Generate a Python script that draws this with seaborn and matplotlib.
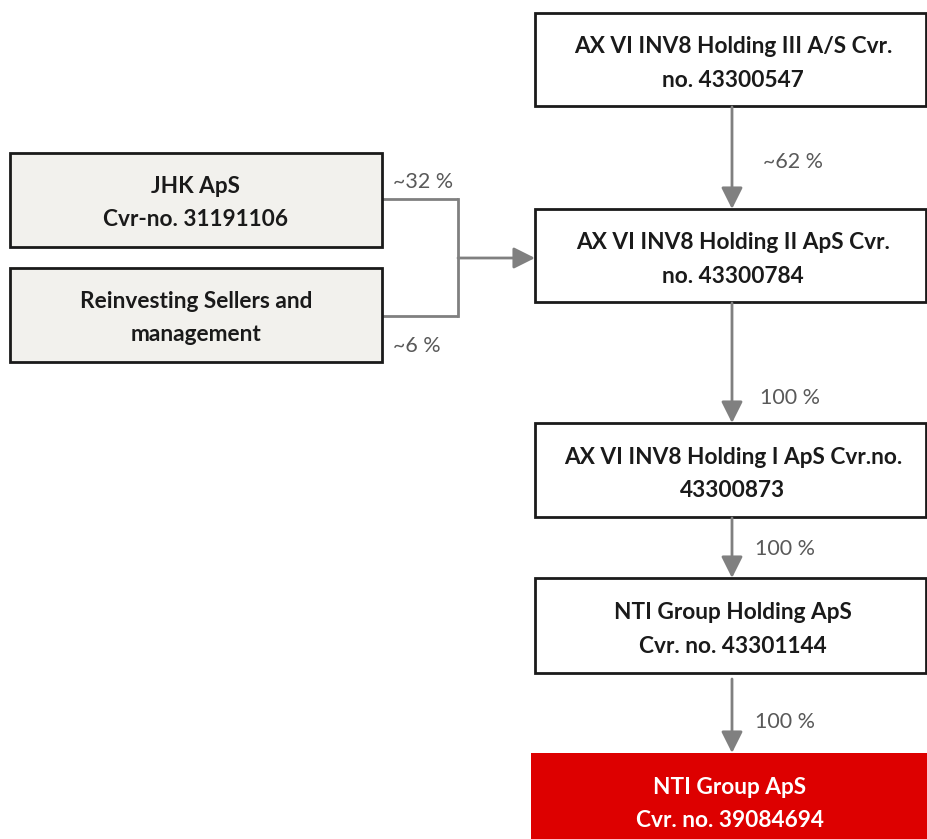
import matplotlib
matplotlib.use("Agg")
import matplotlib.pyplot as plt
from matplotlib.patches import Rectangle, FancyArrowPatch
import seaborn as sns

# ---- data ----
chain_labels = [
    "AX VI INV8 Holding III A/S Cvr.\nno. 43300547",
    "AX VI INV8 Holding II ApS Cvr.\nno. 43300784",
    "AX VI INV8 Holding I ApS Cvr.no.\n43300873",
    "NTI Group Holding ApS\nCvr. no. 43301144",
    "NTI Group ApS\nCvr. no. 39084694",
]
chain_stakes = ["~62 %", "100 %", "100 %", "100 %"]
holder_labels = ["JHK ApS\nCvr-no. 31191106", "Reinvesting Sellers and\nmanagement"]
holder_stakes = ["~32 %", "~6 %"]

# ---- layout (pixel coordinates, y downward) ----
chain_boxes = [(535, 13, 391, 93), (535, 209, 391, 93), (535, 423, 391, 94),
               (535, 578, 391, 95), (531, 753, 400, 100)]
holder_boxes = [(10, 153, 372, 94), (10, 268, 372, 94)]
arrow_x = 732
chain_arrows = [(107, 209), (303, 423), (518, 578), (679, 753)]
chain_label_pos = [(763, 162), (760, 398), (755, 549), (755, 722)]
holder_label_pos = [(393, 182), (393, 346)]
join_x = 458
holder_exit_y = [199, 316]
join_arrow_y = 258

sns.set_theme(style="white")
plt.rcParams["font.family"] = ["Lato", "DejaVu Sans"]

fig = plt.figure(figsize=(9.28, 8.39), dpi=100)
ax = fig.add_axes([0, 0, 1, 1])
ax.set_xlim(0, 928)
ax.set_ylim(839, 0)
ax.axis("off")

GRAY = "#808080"
TXT_GRAY = "#595959"
BOX_FS = 16.3
LBL_FS = 15.5
LS = 1.72

for i, ((x, y, w, h), lab) in enumerate(zip(chain_boxes, chain_labels)):
    last = i == len(chain_boxes) - 1
    if last:
        ax.add_patch(Rectangle((x, y), w, h, facecolor="#dd0000", edgecolor="none", zorder=2))
        col = "white"
        cx, cy = 730, 804
    else:
        ax.add_patch(Rectangle((x, y), w, h, facecolor="white", edgecolor="#1a1a1a", lw=2.0, zorder=2))
        col = "#1a1a1a"
        cx, cy = 733, y + h / 2 + 4
    ax.text(cx, cy, lab, ha="center", va="center", fontsize=BOX_FS, fontweight="bold",
            color=col, linespacing=LS, zorder=3)

for (x, y, w, h), lab in zip(holder_boxes, holder_labels):
    ax.add_patch(Rectangle((x, y), w, h, facecolor="#f2f1ed", edgecolor="#1a1a1a", lw=2.0, zorder=2))
    ax.text(x + w / 2, y + h / 2 + 3, lab, ha="center", va="center", fontsize=BOX_FS,
            fontweight="bold", color="#1a1a1a", linespacing=LS, zorder=3)

def arrow(p0, p1):
    a = FancyArrowPatch(p0, p1, arrowstyle="-|>,head_length=1.0,head_width=0.5",
                        mutation_scale=13, color=GRAY, lw=2.0, shrinkA=0, shrinkB=0, zorder=4)
    ax.add_patch(a)

for (y0, y1), lab, (lx, ly) in zip(chain_arrows, chain_stakes, chain_label_pos):
    arrow((arrow_x, y0), (arrow_x, y1))
    ax.text(lx, ly, lab, ha="left", va="center", fontsize=LBL_FS, color=TXT_GRAY)

# holder connectors
right = holder_boxes[0][0] + holder_boxes[0][2]
for yy in holder_exit_y:
    ax.plot([right, join_x], [yy, yy], color=GRAY, lw=2.0, solid_capstyle="butt", zorder=1)
ax.plot([join_x, join_x], holder_exit_y, color=GRAY, lw=2.0, solid_capstyle="projecting", zorder=1)
arrow((join_x, join_arrow_y), (535, join_arrow_y))
for lab, (lx, ly) in zip(holder_stakes, holder_label_pos):
    ax.text(lx, ly, lab, ha="left", va="center", fontsize=LBL_FS, color=TXT_GRAY)

fig.savefig("out.png", dpi=100, facecolor="white")
